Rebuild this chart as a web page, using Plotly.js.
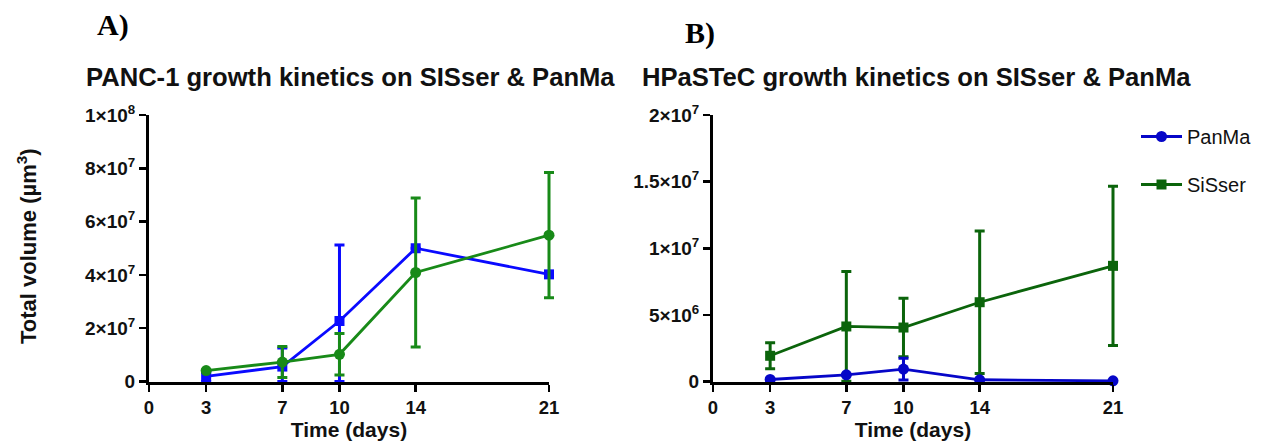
<!DOCTYPE html>
<html>
<head>
<meta charset="utf-8">
<script src="https://cdn.plot.ly/plotly-3.0.1.min.js"></script>
<style>html,body{margin:0;padding:0;background:#fff;}#chart{width:1266px;height:447px;}</style>
</head>
<body>
<div id="chart"></div>
<script>
// ---- data ----
const days = [3, 7, 10, 14, 21];
const xTickVals = [0, 3, 7, 10, 14, 21];

// Panel A (PANC-1)
const aBlue = [1.9e6, 5.6e6, 2.27e7, 5.0e7, 4.02e7];
const aBlueErrPlus = [1.5e6, 7.0e6, 2.85e7, 0, 0];
const aBlueErrMinus = [1.9e6, 5.6e6, 2.27e7, 0, 0];
const aGreen = [4.1e6, 7.3e6, 1.02e7, 4.09e7, 5.49e7];
const aGreenErr = [0, 5.8e6, 7.8e6, 2.8e7, 2.35e7];

// Panel B (HPaSTeC)
const bPanMa = [0.15e6, 0.5e6, 0.93e6, 0.13e6, 0.05e6];
const bPanMaErr = [0, 0, 0.82e6, 0, 0];
const bSiSser = [1.93e6, 4.13e6, 4.05e6, 5.95e6, 8.68e6];
const bSiSserErr = [0.98e6, 4.12e6, 2.2e6, 5.35e6, 5.98e6];

const aTickVals = [0, 2e7, 4e7, 6e7, 8e7, 1e8];
const aTickText = ['0', '2×10<sup>7</sup>', '4×10<sup>7</sup>', '6×10<sup>7</sup>', '8×10<sup>7</sup>', '1×10<sup>8</sup>'];
const bTickVals = [0, 5e6, 1e7, 1.5e7, 2e7];
const bTickText = ['0', '5×10<sup>6</sup>', '1×10<sup>7</sup>', '1.5×10<sup>7</sup>', '2×10<sup>7</sup>'];

// ---- styling ----
const W = 1266, H = 447;
const px = v => v / W, py = v => 1 - v / H;
const FONT = 'Liberation Sans, Arial, sans-serif';
const cA_blue = '#0a0aff', cA_green = '#188a18';
const cB_blue = '#0606c8', cB_green = '#0b640b';

function tr(x, y, ep, em, color, symbol, xa, ya, name, show, rank, grp) {
  return {
    x: x, y: y, type: 'scatter', mode: 'lines+markers', name: name,
    showlegend: show, legendrank: rank, legendgroup: grp, xaxis: xa, yaxis: ya, cliponaxis: false,
    line: {color: color, width: 2.8},
    marker: {color: color, symbol: symbol, size: symbol === 'square' ? 10 : 11},
    error_y: {type: 'data', symmetric: false, array: ep, arrayminus: em, color: color, thickness: 3, width: 5}
  };
}

const data = [
  tr(days, aBlue, aBlueErrPlus, aBlueErrMinus, cA_blue, 'square', 'x', 'y', 'A1', false, 1000, 'ga1'),
  tr(days, aGreen, aGreenErr, aGreenErr, cA_green, 'circle', 'x', 'y', 'A2', false, 1000, 'ga2'),
  tr(days, bSiSser, bSiSserErr, bSiSserErr, cB_green, 'square', 'x2', 'y2', 'SiSser', true, 2, 'gs'),
  tr(days, bPanMa, bPanMaErr, bPanMaErr, cB_blue, 'circle', 'x2', 'y2', 'PanMa', true, 1, 'gp')
];

function xaxis(d0, d1, anchor) {
  return {
    domain: [px(d0), px(d1)], anchor: anchor, range: [0, 21], tickmode: 'array', tickvals: xTickVals,
    showline: true, linecolor: '#000', linewidth: 3, ticks: 'outside', ticklen: 7, tickwidth: 2.5, tickcolor: '#000',
    showgrid: false, zeroline: false, tickfont: {family: FONT, size: 18.5, color: '#111', weight: 'bold'},
    title: {text: '<b>Time (days)</b>', font: {family: FONT, size: 21, color: '#111'}, standoff: 6}
  };
}
function yaxis(anchor, rng, tv, tt) {
  return {
    domain: [py(381.5), py(115)], anchor: anchor, range: rng, tickmode: 'array', tickvals: tv, ticktext: tt,
    showline: true, linecolor: '#000', linewidth: 3, ticks: 'outside', ticklen: 7, tickwidth: 2.5, tickcolor: '#000',
    showgrid: false, zeroline: false, tickfont: {family: FONT, size: 19, color: '#111', weight: 'bold'}
  };
}

const layout = {
  width: W, height: H, margin: {l: 0, r: 0, t: 0, b: 0}, paper_bgcolor: '#fff', plot_bgcolor: '#fff',
  xaxis: xaxis(149, 549, 'y'),
  yaxis: yaxis('x', [0, 1e8], aTickVals, aTickText),
  xaxis2: xaxis(713, 1113, 'y2'),
  yaxis2: yaxis('x2', [0, 2e7], bTickVals, bTickText),
  legend: {x: px(1136), y: py(117), xanchor: 'left', yanchor: 'top', traceorder: 'grouped', tracegroupgap: 19,
           itemwidth: 41, font: {family: FONT, size: 20, color: '#111'}, bgcolor: 'rgba(0,0,0,0)'},
  annotations: [
    {text: '<b>A)</b>', x: px(95), y: py(25), xref: 'paper', yref: 'paper', xanchor: 'left', yanchor: 'middle', showarrow: false,
     font: {family: 'Liberation Serif, Times New Roman, serif', size: 30, color: '#000'}},
    {text: '<b>B)</b>', x: px(683), y: py(33), xref: 'paper', yref: 'paper', xanchor: 'left', yanchor: 'middle', showarrow: false,
     font: {family: 'Liberation Serif, Times New Roman, serif', size: 30, color: '#000'}},
    {text: '<b>PANC-1 growth kinetics on SISser &amp; PanMa</b>', x: px(84), y: py(77), xref: 'paper', yref: 'paper', xanchor: 'left', yanchor: 'middle', showarrow: false,
     font: {family: FONT, size: 25.6, color: '#111'}},
    {text: '<b>HPaSTeC growth kinetics on SISser &amp; PanMa</b>', x: px(640), y: py(77), xref: 'paper', yref: 'paper', xanchor: 'left', yanchor: 'middle', showarrow: false,
     font: {family: FONT, size: 25.6, color: '#111'}},
    {text: '<b>Total volume (µm<sup>3</sup>)</b>', x: px(27), y: py(246), xref: 'paper', yref: 'paper', xanchor: 'center', yanchor: 'middle', showarrow: false, textangle: -90,
     font: {family: FONT, size: 22, color: '#111'}}
  ]
};

Plotly.newPlot('chart', data, layout, {staticPlot: true, displayModeBar: false}).then(function (gd) {
  // let error bars at the axis ends show in full, like the markers (cliponaxis: false)
  gd.querySelectorAll('.scatterlayer [clip-path], .scatterlayer .errorbars, .scatterlayer .errorbar').forEach(function (el) {
    el.removeAttribute('clip-path');
  });
});
</script>
</body>
</html>
